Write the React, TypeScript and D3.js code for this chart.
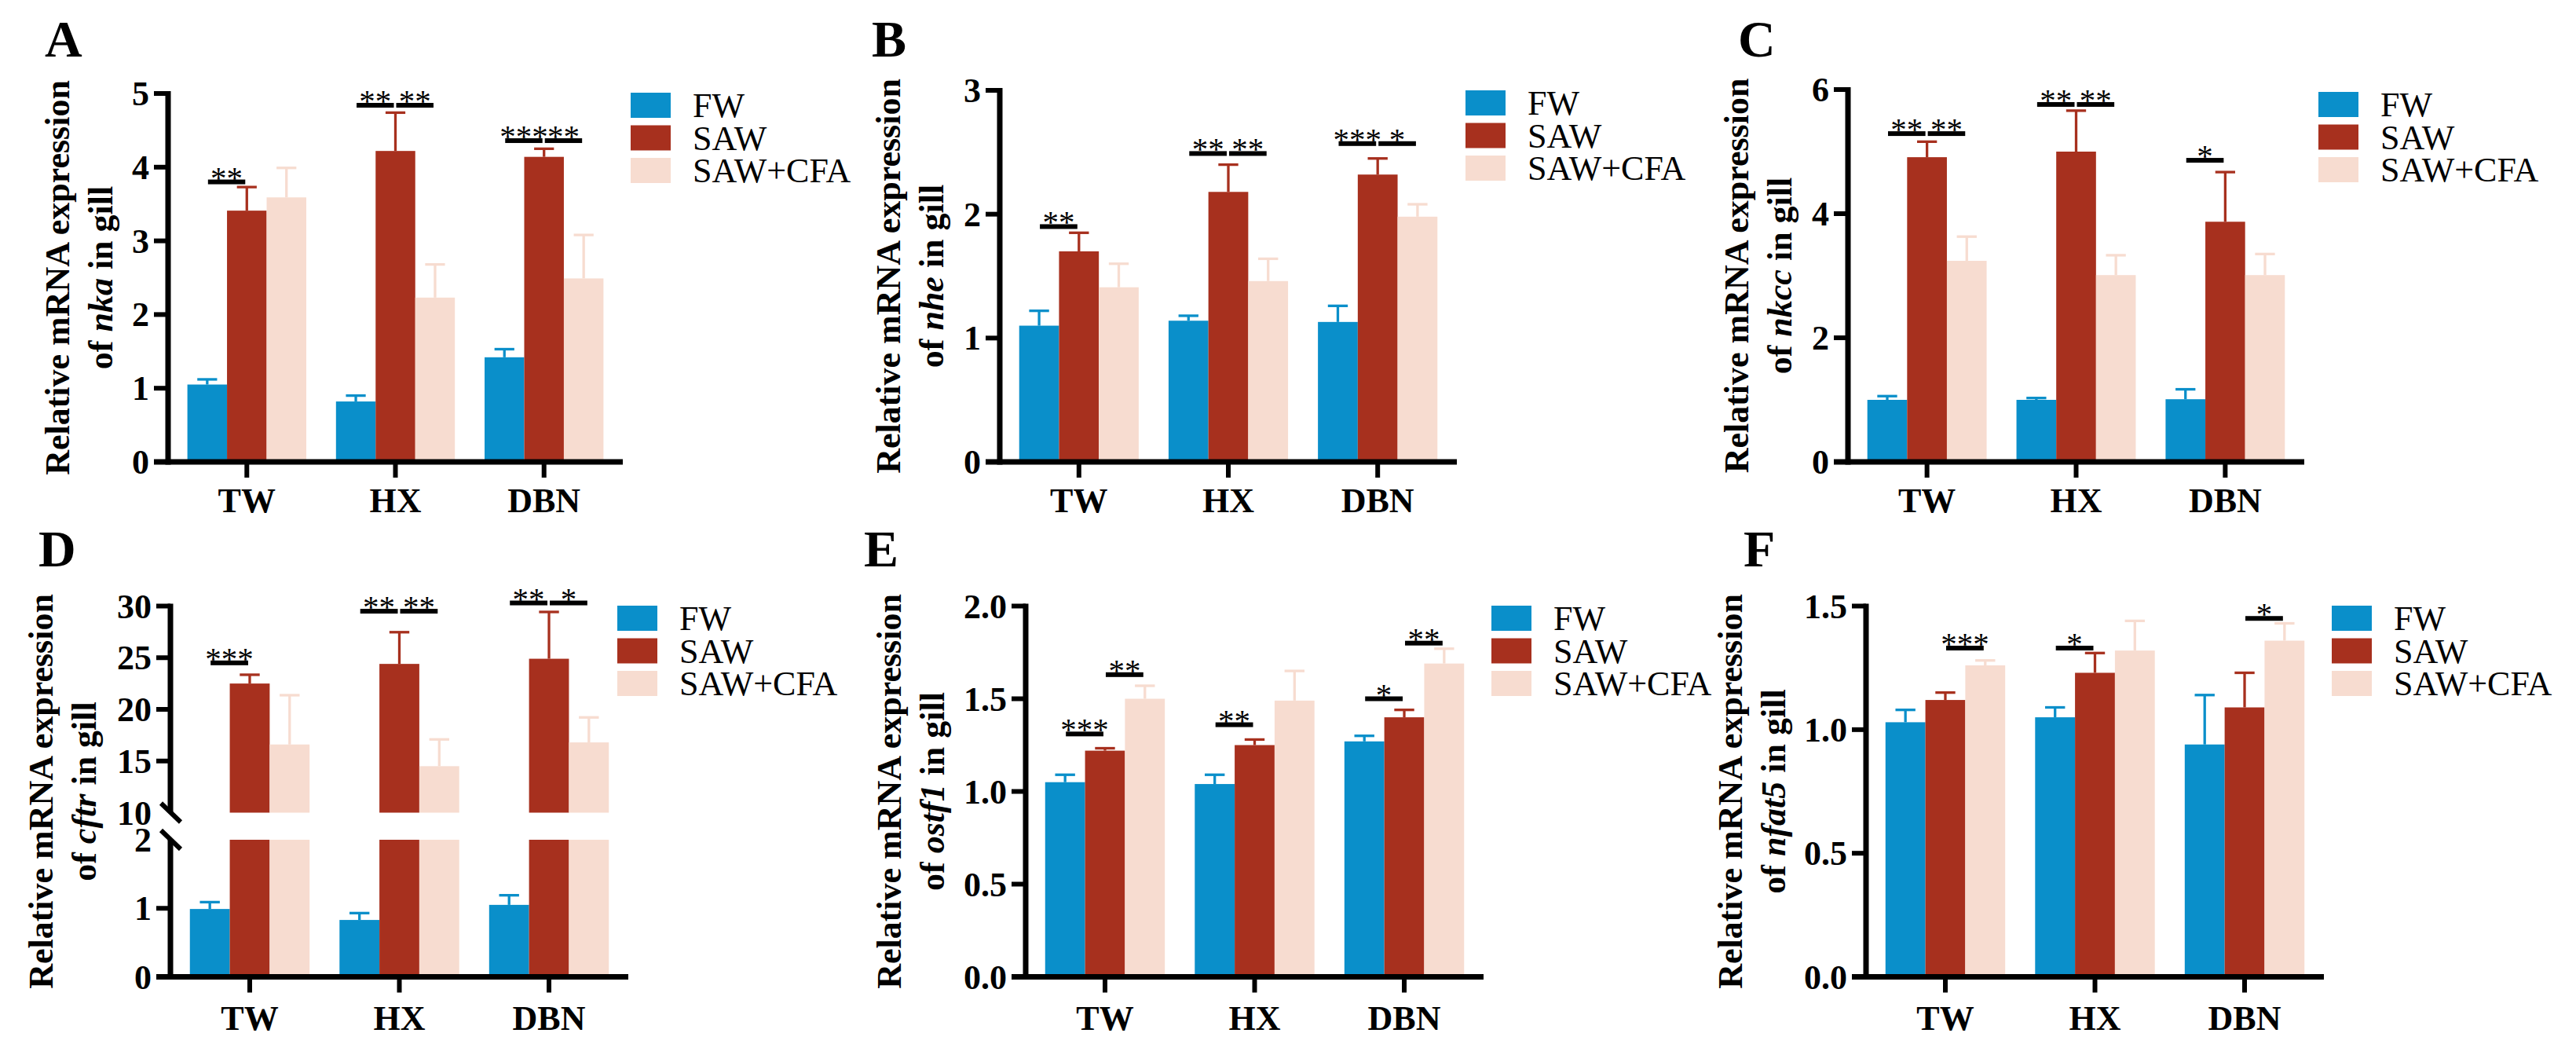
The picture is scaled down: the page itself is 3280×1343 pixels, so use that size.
import React from "react";
import * as d3 from "d3";

// Shared categories and series
const GROUPS = ["TW", "HX", "DBN"];
const SERIES = ["FW", "SAW", "SAW+CFA"];
const COLORS = ["#0A8FCA", "#A7301E", "#F7DCD0"];

// Means per series (rows: FW, SAW, SAW+CFA; columns: TW, HX, DBN) and SEM
const nkaMean = [[1.05, 0.82, 1.42], [3.41, 4.22, 4.14], [3.59, 2.23, 2.49]];
const nkaErr = [[0.07, 0.08, 0.11], [0.32, 0.52, 0.11], [0.40, 0.45, 0.59]];
const nheMean = [[1.10, 1.14, 1.13], [1.70, 2.18, 2.32], [1.41, 1.46, 1.98]];
const nheErr = [[0.12, 0.04, 0.13], [0.15, 0.22, 0.13], [0.19, 0.18, 0.10]];
const nkccMean = [[1.00, 1.00, 1.01], [4.91, 5.00, 3.87], [3.24, 3.01, 3.01]];
const nkccErr = [[0.06, 0.03, 0.16], [0.25, 0.66, 0.80], [0.39, 0.32, 0.34]];
const cftrMean = [[0.99, 0.83, 1.05], [22.5, 24.4, 24.9], [16.6, 14.5, 16.8]];
const cftrErr = [[0.10, 0.10, 0.14], [0.85, 3.07, 4.53], [4.77, 2.59, 2.42]];
const ostf1Mean = [[1.05, 1.04, 1.27], [1.22, 1.25, 1.40], [1.50, 1.49, 1.69]];
const ostf1Err = [[0.04, 0.05, 0.03], [0.013, 0.03, 0.04], [0.07, 0.16, 0.08]];
const nfat5Mean = [[1.03, 1.05, 0.94], [1.12, 1.23, 1.09], [1.26, 1.32, 1.36]];
const nfat5Err = [[0.05, 0.04, 0.20], [0.03, 0.08, 0.14], [0.02, 0.12, 0.07]];

// Significance brackets: group, compared series indices, label, bracket level (data units)
const nkaSig = [
  { g: "TW", a: 0, b: 1, label: "**", y: 3.80 },
  { g: "HX", a: 0, b: 1, label: "**", y: 4.84 },
  { g: "HX", a: 1, b: 2, label: "**", y: 4.84 },
  { g: "DBN", a: 0, b: 1, label: "***", y: 4.36 },
  { g: "DBN", a: 1, b: 2, label: "**", y: 4.36 },
];
const nheSig = [
  { g: "TW", a: 0, b: 1, label: "**", y: 1.90 },
  { g: "HX", a: 0, b: 1, label: "**", y: 2.49 },
  { g: "HX", a: 1, b: 2, label: "**", y: 2.49 },
  { g: "DBN", a: 0, b: 1, label: "***", y: 2.57 },
  { g: "DBN", a: 1, b: 2, label: "*", y: 2.57 },
];
const nkccSig = [
  { g: "TW", a: 0, b: 1, label: "**", y: 5.29 },
  { g: "TW", a: 1, b: 2, label: "**", y: 5.29 },
  { g: "HX", a: 0, b: 1, label: "**", y: 5.76 },
  { g: "HX", a: 1, b: 2, label: "**", y: 5.76 },
  { g: "DBN", a: 0, b: 1, label: "*", y: 4.86 },
];
const cftrSig = [
  { g: "TW", a: 0, b: 1, label: "***", y: 24.5 },
  { g: "HX", a: 0, b: 1, label: "**", y: 29.5 },
  { g: "HX", a: 1, b: 2, label: "**", y: 29.5 },
  { g: "DBN", a: 0, b: 1, label: "**", y: 30.3 },
  { g: "DBN", a: 1, b: 2, label: "*", y: 30.3 },
];
const ostf1Sig = [
  { g: "TW", a: 0, b: 1, label: "***", y: 1.31 },
  { g: "TW", a: 1, b: 2, label: "**", y: 1.63 },
  { g: "HX", a: 0, b: 1, label: "**", y: 1.36 },
  { g: "DBN", a: 0, b: 1, label: "*", y: 1.50 },
  { g: "DBN", a: 1, b: 2, label: "**", y: 1.80 },
];
const nfat5Sig = [
  { g: "TW", a: 1, b: 2, label: "***", y: 1.33 },
  { g: "HX", a: 0, b: 1, label: "*", y: 1.33 },
  { g: "DBN", a: 1, b: 2, label: "*", y: 1.45 },
];

// Tick values
const nkaTicks = [0, 1, 2, 3, 4, 5];
const nheTicks = [0, 1, 2, 3];
const nkccTicks = [0, 2, 4, 6];
const cftrLowTicks = [0, 1, 2];
const cftrHighTicks = [10, 15, 20, 25, 30];
const ostf1Ticks = [0, 0.5, 1.0, 1.5, 2.0];
const nfat5Ticks = [0, 0.5, 1.0, 1.5];

const FONT = '"Liberation Serif", "Times New Roman", Times, serif';
const AXIS_W = 7;
const TICK_W = 6;
const TICK_LEN = 18;

const intFmt = (d: number) => String(d);
const oneDec = d3.format(".1f");

const TOP_Y0 = 588;
const BOT_Y0 = 1243.5;

const PANELS = [
  {
    letter: "A", gene: "nka", mean: nkaMean, err: nkaErr, sig: nkaSig,
    segs: [{ domain: [0, 5], range: [TOP_Y0, 119], ticks: nkaTicks, marks: nkaTicks, fmt: intFmt }],
    axisX: 214, axisEnd: 793, titleX: 88, letterX: 57, letterY: 72,
    legendX: 803, legendY: 118, xLabelY: 652,
  },
  {
    letter: "B", gene: "nhe", mean: nheMean, err: nheErr, sig: nheSig,
    segs: [{ domain: [0, 3], range: [TOP_Y0, 115], ticks: nheTicks, marks: nheTicks, fmt: intFmt }],
    axisX: 1273, axisEnd: 1855, titleX: 1146, letterX: 1110, letterY: 72,
    legendX: 1866, legendY: 115, xLabelY: 652,
  },
  {
    letter: "C", gene: "nkcc", mean: nkccMean, err: nkccErr, sig: nkccSig,
    segs: [{ domain: [0, 6], range: [TOP_Y0, 114], ticks: nkccTicks, marks: nkccTicks, fmt: intFmt }],
    axisX: 2353, axisEnd: 2934, titleX: 2226, letterX: 2213, letterY: 72,
    legendX: 2952, legendY: 117, xLabelY: 652,
  },
  {
    letter: "D", gene: "cftr", mean: cftrMean, err: cftrErr, sig: cftrSig,
    segs: [
      { domain: [0, 2], range: [BOT_Y0, 1069], ticks: cftrLowTicks, marks: [0, 1], fmt: intFmt },
      { domain: [10, 30], range: [1034.5, 771.5], ticks: cftrHighTicks, marks: [15, 20, 25, 30], fmt: intFmt },
    ],
    axisX: 217, axisEnd: 800, titleX: 67, letterX: 49, letterY: 721,
    legendX: 786, legendY: 771, xLabelY: 1311,
  },
  {
    letter: "E", gene: "ostf1", mean: ostf1Mean, err: ostf1Err, sig: ostf1Sig,
    segs: [{ domain: [0, 2], range: [BOT_Y0, 771.5], ticks: ostf1Ticks, marks: ostf1Ticks, fmt: oneDec }],
    axisX: 1306, axisEnd: 1889, titleX: 1147, letterX: 1100, letterY: 721,
    legendX: 1899, legendY: 771, xLabelY: 1311,
  },
  {
    letter: "F", gene: "nfat5", mean: nfat5Mean, err: nfat5Err, sig: nfat5Sig,
    segs: [{ domain: [0, 1.5], range: [BOT_Y0, 771.5], ticks: nfat5Ticks, marks: nfat5Ticks, fmt: oneDec }],
    axisX: 2376, axisEnd: 2959, titleX: 2218, letterX: 2220, letterY: 721,
    legendX: 2969, legendY: 771, xLabelY: 1311,
  },
];

function Panel({ p }: { p: any }) {
  const x0 = d3.scaleBand<string>().domain(GROUPS).range([p.axisX, p.axisEnd]).paddingInner(0.2).paddingOuter(0.13);
  const x1 = d3.scaleBand<number>().domain(d3.range(SERIES.length)).range([0, x0.bandwidth()]);
  const bw = x1.bandwidth();
  const segs = p.segs.map((s: any) => ({ ...s, scale: d3.scaleLinear().domain(s.domain).range(s.range) }));
  const y0 = segs[0].range[0];
  const last = segs.length - 1;
  const segFor = (v: number) => segs.find((s: any) => v <= s.domain[1]) ?? segs[last];
  const yOf = (v: number) => segFor(v).scale(v);
  const barX = (g: string, i: number) => (x0(g) as number) + (x1(i) as number);
  const barC = (g: string, i: number) => barX(g, i) + bw / 2;
  const cy = (segs[0].range[0] + segs[last].range[1]) / 2;
  const ax = p.axisX;

  return (
    <g>
      {/* panel letter */}
      <text x={p.letterX} y={p.letterY} fontFamily={FONT} fontWeight="bold" fontSize={66}>{p.letter}</text>

      {/* y-axis title */}
      <text transform={`translate(${p.titleX},${cy}) rotate(-90)`} textAnchor="middle" fontFamily={FONT} fontWeight="bold" fontSize={44}>
        <tspan x={0} dy={0}>Relative mRNA expression</tspan>
        <tspan x={0} dy={55}>of <tspan fontStyle="italic">{p.gene}</tspan> in gill</tspan>
      </text>

      {/* bars */}
      {SERIES.map((_, i) =>
        GROUPS.map((g, j) => {
          const v = p.mean[i][j];
          return segs.map((s: any, k: number) => {
            if (k > 0 && v <= s.domain[0]) return null;
            const top = k === last ? v : Math.min(v, s.domain[1]);
            const yt = s.scale(top);
            const yb = s.scale(s.domain[0]);
            return <rect key={`b${i}-${j}-${k}`} x={barX(g, i)} y={yt} width={bw} height={yb - yt} fill={COLORS[i]} />;
          });
        })
      )}

      {/* error bars (upper half) */}
      {SERIES.map((_, i) =>
        GROUPS.map((g, j) => {
          const m = p.mean[i][j];
          const e = p.err[i][j];
          const c = barC(g, i);
          const yt = yOf(m + e);
          return (
            <g key={`e${i}-${j}`} stroke={COLORS[i]} strokeWidth={3.3}>
              <line x1={c} x2={c} y1={yOf(m)} y2={yt} />
              <line x1={c - bw * 0.25} x2={c + bw * 0.25} y1={yt} y2={yt} />
            </g>
          );
        })
      )}

      {/* y axis */}
      {segs.map((s: any, k: number) => {
        const yb = k === 0 ? y0 + AXIS_W / 2 : s.scale(s.domain[0]);
        const yt = k === last ? s.range[1] - 3 : s.scale(s.domain[1]);
        return <line key={`ax${k}`} x1={ax} x2={ax} y1={yb} y2={yt} stroke="#000" strokeWidth={AXIS_W} />;
      })}
      {/* axis break marks */}
      {segs.length > 1 &&
        [segs[0].scale(segs[0].domain[1]), segs[1].scale(segs[1].domain[0])].map((yy: number, k: number) => (
          <line key={`br${k}`} x1={ax - 12} y1={yy - 12} x2={ax + 13} y2={yy + 12} stroke="#000" strokeWidth={6} />
        ))}
      {/* y ticks and labels */}
      {segs.map((s: any, k: number) => (
        <g key={`yt${k}`}>
          {s.marks.map((t: number) => (
            <line key={`m${t}`} x1={ax - TICK_LEN} x2={ax} y1={s.scale(t)} y2={s.scale(t)} stroke="#000" strokeWidth={TICK_W} />
          ))}
          {s.ticks.map((t: number) => (
            <text key={`l${t}`} x={ax - 24} y={s.scale(t) + 15} textAnchor="end" fontFamily={FONT} fontWeight="bold" fontSize={44}>
              {s.fmt(t)}
            </text>
          ))}
        </g>
      ))}

      {/* x axis */}
      <line x1={ax - TICK_LEN} x2={p.axisEnd} y1={y0} y2={y0} stroke="#000" strokeWidth={AXIS_W} />
      {GROUPS.map((g) => {
        const c = (x0(g) as number) + x0.bandwidth() / 2;
        return (
          <g key={`x${g}`}>
            <line x1={c} x2={c} y1={y0} y2={y0 + 20} stroke="#000" strokeWidth={TICK_W} />
            <text x={c} y={p.xLabelY} textAnchor="middle" fontFamily={FONT} fontWeight="bold" fontSize={44}>{g}</text>
          </g>
        );
      })}

      {/* significance brackets */}
      {p.sig.map((s: any, k: number) => {
        const xa = barC(s.g, s.a) + 1;
        const xb = barC(s.g, s.b) - 2;
        const yy = yOf(s.y);
        return (
          <g key={`s${k}`}>
            <rect x={xa} y={yy - 3} width={xb - xa} height={6} fill="#000" />
            <text x={(xa + xb) / 2} y={yy + 8} textAnchor="middle" fontFamily={FONT} fontSize={41}>{s.label}</text>
          </g>
        );
      })}

      {/* legend */}
      {SERIES.map((name, i) => (
        <g key={`lg${i}`}>
          <rect x={p.legendX} y={p.legendY + i * 41.5} width={51} height={32} fill={COLORS[i]} />
          <text x={p.legendX + 79} y={p.legendY + i * 41.5 + 31} fontFamily={FONT} fontSize={44}>{name}</text>
        </g>
      ))}
    </g>
  );
}

export default function App() {
  return (
    <svg width={3280} height={1343} style={{ position: "absolute", left: 0, top: 0, display: "block" }}>
      <rect x={0} y={0} width={3280} height={1343} fill="#fff" />
      {PANELS.map((p) => (
        <Panel key={p.letter} p={p} />
      ))}
    </svg>
  );
}
